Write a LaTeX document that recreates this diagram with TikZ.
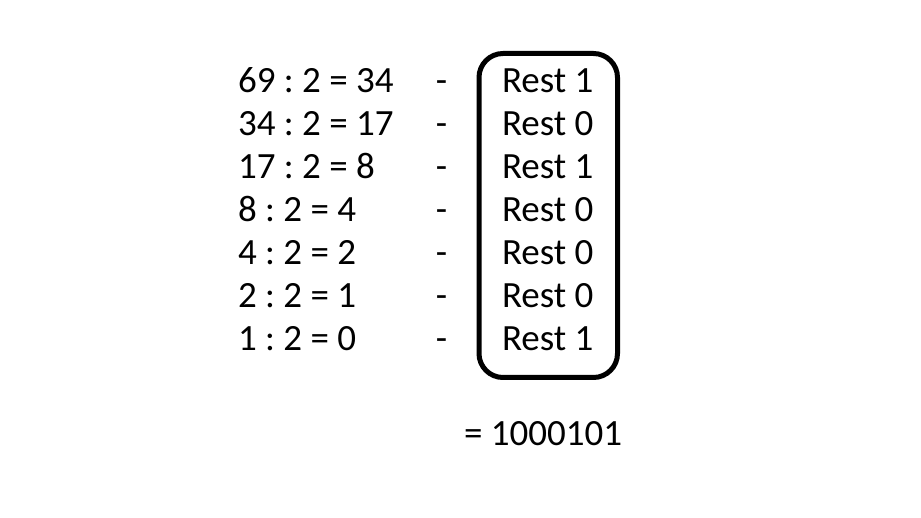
\documentclass[tikz,border=0pt]{standalone}
\usepackage{fontspec}
\setmainfont{Carlito}
\begin{document}
\frenchspacing
\begin{tikzpicture}[x=1pt,y=-1pt,
  txt/.style={inner sep=0pt,outer sep=0pt,anchor=base west,font=\fontsize{37}{44}\selectfont\frenchspacing},
  dsh/.style={inner sep=0pt,outer sep=0pt,anchor=base,font=\fontsize{37}{44}\selectfont},
  restbox/.style={line width=5pt,rounded corners=24pt}]
\useasboundingbox[fill=white] (0,0) rectangle (921,518);
\foreach \a/\r [count=\i from 0] in {69 : 2 = 34/1,34 : 2 = 17/0,17 : 2 = 8/1,8 : 2 = 4/0,4 : 2 = 2/0,2 : 2 = 1/0,1 : 2 = 0/1}{
  \node[txt] (div\i) at (238,{93+42.9*\i}) {\a};
  \node[dsh] (dash\i) at (441.5,{93+42.9*\i}) {-};
  \node[txt] (rest\i) at (502,{93+42.9*\i}) {Rest \r};
}
\coordinate (boxtl) at (479,53.5);
\coordinate (boxbr) at (617.5,377.5);
\draw[restbox] (boxtl) rectangle (boxbr);
\node[txt] (result) at (464,446) {= 1000101};
\end{tikzpicture}
\end{document}
